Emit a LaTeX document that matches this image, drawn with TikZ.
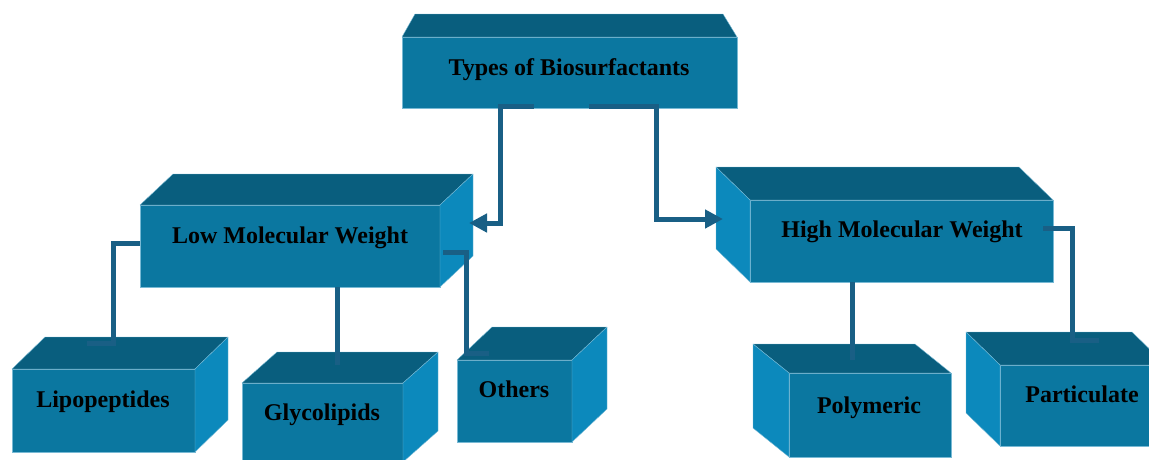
\documentclass[tikz,border=0pt]{standalone}
\usepackage{fontspec}
\setmainfont{Liberation Serif}
\usetikzlibrary{calc,arrows.meta}
\definecolor{frontc}{RGB}{11,119,160}
\definecolor{topc}{RGB}{9,94,126}
\definecolor{sidec}{RGB}{12,137,188}
\definecolor{connc}{RGB}{25,95,133}
\definecolor{edgec}{RGB}{120,185,212}
\tikzset{
  front/.style={fill=frontc, draw=edgec, line width=0.4pt, inner sep=0pt, outer sep=0pt},
  topface/.style={fill=topc, draw=edgec, line width=0.4pt, line join=round},
  sideface/.style={fill=sidec, draw=edgec, line width=0.4pt, line join=round},
  lbl/.style={anchor=base, inner sep=0pt, font=\bfseries\fontsize{24}{28}\selectfont},
  conn/.style={draw=connc, line width=5pt, line join=miter},
  arr/.style={-{Triangle[length=18pt,width=18pt]}}
}
% #1 name, #2 x1, #3 y1, #4 x2, #5 y2, #6 dx, #7 dy
\newcommand\cubeRight[7]{%
  \node[front, minimum width={#4-#2}, minimum height={#5-#3}] (#1) at ({(#2+#4)/2},{(#3+#5)/2}) {};
  \path[topface] (#1.north west) -- ++(#6,#7) -- ($(#1.north east)+(#6,#7)$) -- (#1.north east) -- cycle;
  \path[sideface] (#1.north east) -- ++(#6,#7) -- ($(#1.south east)+(#6,#7)$) -- (#1.south east) -- cycle;
}
\newcommand\cubeLeft[7]{%
  \node[front, minimum width={#4-#2}, minimum height={#5-#3}] (#1) at ({(#2+#4)/2},{(#3+#5)/2}) {};
  \path[topface] (#1.north west) -- ++(#6,#7) -- ($(#1.north east)+(#6,#7)$) -- (#1.north east) -- cycle;
  \path[sideface] (#1.north west) -- ++(#6,#7) -- ($(#1.south west)+(#6,#7)$) -- (#1.south west) -- cycle;
}
\begin{document}
\begin{tikzpicture}[x=1pt,y=-1pt]
\useasboundingbox (0,0) rectangle (1149,459);
% top box
\node[front, minimum width=335, minimum height=71] (top) at (569.5,72.5) {};
\path[topface] (top.north west) -- ++(13,-23) -- ($(top.north east)+(-14,-23)$) -- (top.north east) -- cycle;
% boxes
\cubeRight{lmw}{140}{205}{440}{287}{33}{-31}
\cubeLeft{hmw}{750}{200}{1053}{282}{-34}{-33}
\cubeRight{lipo}{12}{369}{195}{452}{33}{-32}
\cubeRight{gly}{242}{383}{403}{462}{35}{-31}
\cubeRight{oth}{457}{360}{572}{442}{35}{-33}
\cubeLeft{poly}{789}{373}{951}{457}{-36}{-29}
\cubeLeft{part}{1000}{365}{1166}{446}{-34}{-33}
% labels
\node[lbl] (topt) at (569,75) {Types of Biosurfactants};
\node[lbl] (lmwt) at (290,243) {Low Molecular Weight};
\node[lbl] (hmwt) at (902,237) {High Molecular Weight};
\node[lbl] (lipot) at (103,407) {Lipopeptides};
\node[lbl] (glyt) at (322,420) {Glycolipids};
\node[lbl] (otht) at (514,397) {Others};
\node[lbl] (polyt) at (869,413) {Polymeric};
\node[lbl] (partt) at (1082,402) {Particulate};
% connectors
\draw[conn,arr] ($(top.south)+(-36,-1.5)$) -- ++(-33,0) |- ($(lmw.east)+(29,-23)$);
\draw[conn,arr] ($(top.south)+(19.5,-1.5)$) -- ++(67,0) |- ($(hmw.west)+(-27,-22)$);
\draw[conn] ($(lmw.west)+(0,-3)$) -| ($(lipo.north)+(9.5,-26)$) -- ++(-26,0);
\draw[conn] ($(lmw.south)+(47,0)$) -- ($(gly.north)+(14.5,-18)$);
\draw[conn] ($(lmw.east)+(3,6)$) -| ($(oth.north)+(-48.5,-7)$) -- ++(23,0);
\draw[conn] ($(hmw.south)+(-49.5,0)$) -- ($(poly.north)+(-18,-13)$);
\draw[conn] ($(hmw.east)+(-10,-13)$) -| ($(part.north)+(-11,-25)$) -- ++(27,0);
\end{tikzpicture}
\end{document}
